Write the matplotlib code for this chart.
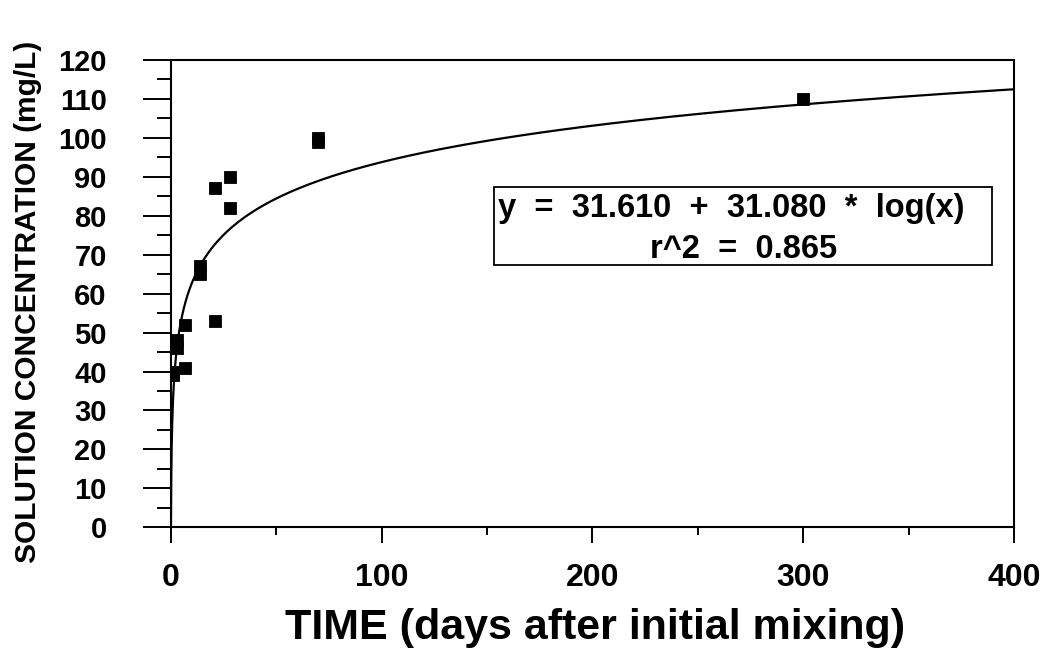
import numpy as np
import matplotlib
matplotlib.use("Agg")
import matplotlib.pyplot as plt
from matplotlib.patches import Rectangle
from matplotlib.ticker import MultipleLocator

plt.rcParams["font.family"] = ["Liberation Sans Narrow", "Liberation Sans", "DejaVu Sans"]
plt.rcParams["font.weight"] = "bold"

# measured points (days, mg/L)
time_days = [1, 1, 3, 3, 7, 7, 14, 14, 21, 21, 28, 28, 70, 70, 300]
conc_mgl = [39, 40, 46, 48, 41, 52, 65, 67, 53, 87, 82, 90, 99, 100, 110]

# fitted log curve printed on the chart
fit_a = 31.610
fit_b = 31.080
fit_r2 = 0.865

fig = plt.figure(figsize=(10.43, 6.55), dpi=100)
ax = fig.add_axes([0.1637, 0.195, 0.8085, 0.7134])

xs = np.logspace(-1, np.log10(400), 400)
ax.plot(xs, fit_a + fit_b * np.log10(xs), color="black", lw=1.6)
ax.plot(time_days, conc_mgl, "s", color="black", ms=9, mec="black", mew=0.6)

ax.set_xlim(0, 400)
ax.set_ylim(0, 120)
ax.xaxis.set_major_locator(MultipleLocator(100))
ax.xaxis.set_minor_locator(MultipleLocator(50))
ax.yaxis.set_major_locator(MultipleLocator(10))
ax.yaxis.set_minor_locator(MultipleLocator(5))

for s in ax.spines.values():
    s.set_linewidth(1.5)

ax.tick_params(axis="y", which="major", direction="out", length=20, width=1.4,
               pad=26, labelsize=21)
ax.tick_params(axis="y", which="minor", direction="out", length=10, width=1.4)
ax.tick_params(axis="x", which="major", direction="out", length=11.5, width=1.4,
               pad=14, labelsize=23)
ax.tick_params(axis="x", which="minor", direction="out", length=5.8, width=1.4)

ax.set_xlabel("TIME (days after initial mixing)", fontsize=31, fontweight="bold")
ax.xaxis.set_label_coords(0.503, -0.172)
ax.set_ylabel("SOLUTION CONCENTRATION (mg/L)", fontsize=21.5, fontweight="bold")
ax.yaxis.set_label_coords(-0.153, 0.483)

# equation box
ax.add_patch(Rectangle((0.3834, 0.5613), 0.5905, 0.1669, transform=ax.transAxes,
                       fill=False, edgecolor="black", lw=1.3))
ax.text(0.388, 0.6636, f"y  =  {fit_a:.3f}  +  {fit_b:.3f}  *  log(x)",
        transform=ax.transAxes, ha="left", va="baseline",
        fontsize=23.5, fontweight="bold")
ax.text(0.6787, 0.5763, f"r^2  =  {fit_r2:.3f}",
        transform=ax.transAxes, ha="center", va="baseline",
        fontsize=23.5, fontweight="bold")

fig.savefig("out.png", dpi=100)
